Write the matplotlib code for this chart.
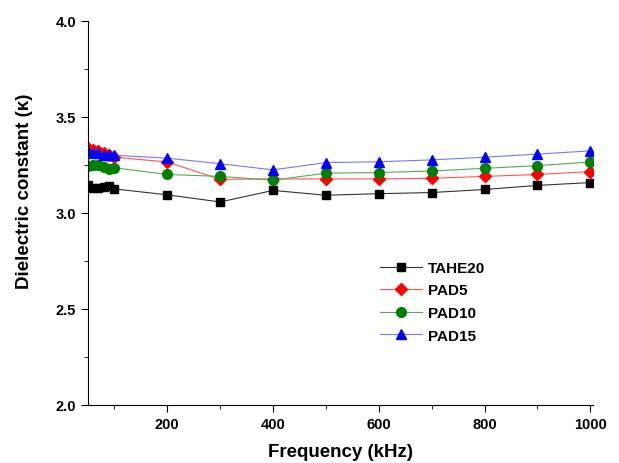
import matplotlib
matplotlib.use("Agg")
import matplotlib.pyplot as plt
from matplotlib.ticker import MultipleLocator

plt.rcParams['font.family'] = ['Liberation Sans', 'DejaVu Sans']

freq = [50, 60, 70, 80, 90, 100, 200, 300, 400, 500, 600, 700, 800, 900, 1000]
tahe20 = [3.145, 3.13, 3.13, 3.135, 3.14, 3.125, 3.094, 3.057, 3.117, 3.092, 3.100, 3.106, 3.122, 3.143, 3.158]
pad5 = [3.34, 3.33, 3.32, 3.31, 3.30, 3.29, 3.265, 3.175, 3.177, 3.177, 3.177, 3.18, 3.19, 3.20, 3.215]
pad10 = [3.245, 3.25, 3.25, 3.24, 3.23, 3.235, 3.20, 3.19, 3.17, 3.207, 3.21, 3.218, 3.232, 3.246, 3.265]
pad15 = [3.32, 3.31, 3.31, 3.30, 3.30, 3.30, 3.285, 3.256, 3.224, 3.262, 3.266, 3.276, 3.29, 3.306, 3.323]

fig = plt.figure(figsize=(6.19, 4.64), dpi=100)
ax = fig.add_axes([0.142, 0.125, 0.816, 0.828])

ax.plot(freq, tahe20, color='#333333', lw=0.8, marker='s', ms=6, mfc='black', mec='black', label='TAHE20')
ax.plot(freq, pad5, color='#ff5555', lw=0.8, marker='D', ms=6, mfc='red', mec='red', label='PAD5')
ax.plot(freq, pad10, color='#55aa55', lw=0.8, marker='o', ms=7, mfc='green', mec='green', label='PAD10')
ax.plot(freq, pad15, color='#7777ff', lw=0.8, marker='^', ms=7.5, mfc='blue', mec='blue', label='PAD15')

ax.set_xlim(50, 1005)
ax.set_ylim(2.0, 4.0)
ax.xaxis.set_major_locator(MultipleLocator(200))
ax.xaxis.set_minor_locator(MultipleLocator(100))
ax.yaxis.set_major_locator(MultipleLocator(0.5))
ax.yaxis.set_minor_locator(MultipleLocator(0.25))
ax.spines['top'].set_visible(False)
ax.spines['right'].set_visible(False)
ax.tick_params(which='both', direction='out')
ax.tick_params(which='major', length=5, labelsize=10.5)
ax.tick_params(which='minor', length=3)
for t in ax.get_xticklabels() + ax.get_yticklabels():
    t.set_fontweight('bold')

ax.set_xlabel('Frequency (kHz)', fontsize=13.5, fontweight='bold', labelpad=9)
ax.set_ylabel('Dielectric constant (\u03ba)', fontsize=13.5, fontweight='bold', labelpad=16, y=0.56)

ax.legend(loc='upper left', bbox_to_anchor=(0.578, 0.375), frameon=False,
          prop={'weight': 'bold', 'size': 11}, handlelength=2.75, handletextpad=0.4,
          labelspacing=0.56, borderaxespad=0, borderpad=0)

fig.savefig('out.png', dpi=100)
